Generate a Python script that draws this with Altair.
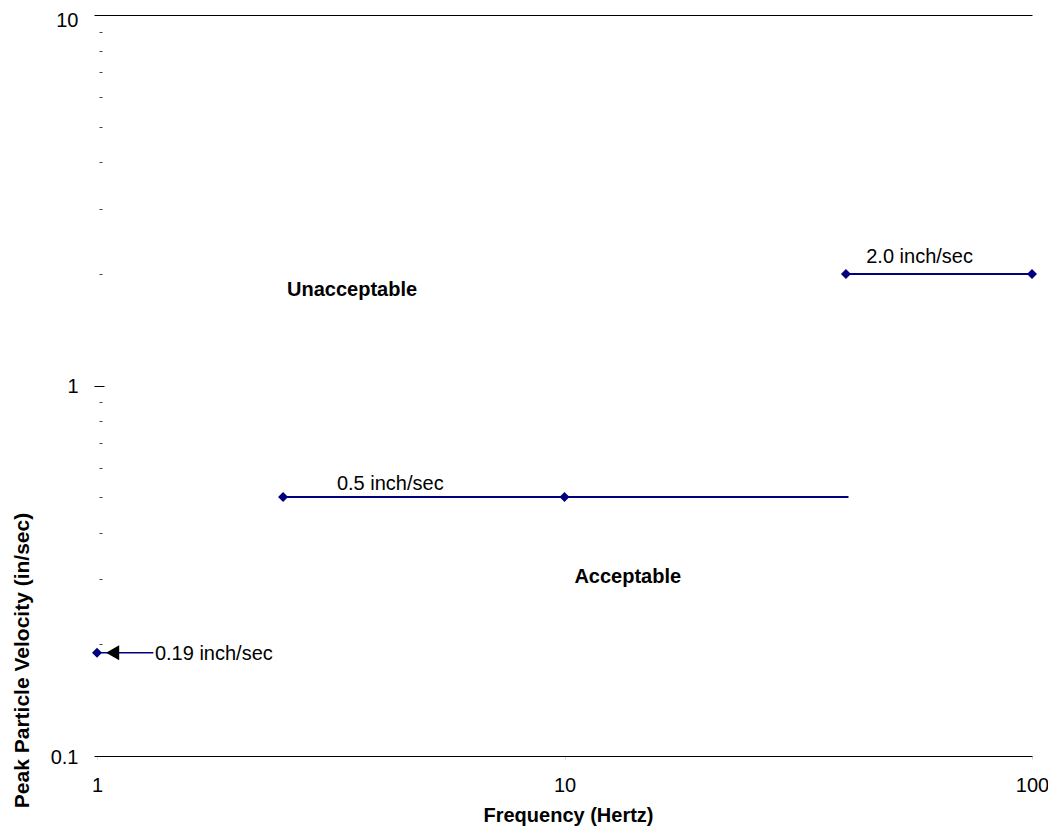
import altair as alt
import pandas as pd

# ---- data ----
series_names = ["2.0 inch/sec", "0.5 inch/sec", "0.19 inch/sec"]
series_freq = [[40, 100], [2.5, 10, 40.5], [1, 1.32]]
series_vel = [[2.0, 2.0], [0.5, 0.5, 0.5], [0.19, 0.19]]

marker_freq = [40, 100, 2.5, 10, 1]
marker_vel = [2.0, 2.0, 0.5, 0.5, 0.19]

arrow_freq = [1.08]
arrow_vel = [0.19]

label_text = ["2.0 inch/sec", "0.5 inch/sec", "0.19 inch/sec"]
label_freq = [44.2, 3.26, 1.33]
label_vel = [2.22, 0.542, 0.188]

zone_text = ["Unacceptable", "Acceptable"]
zone_freq = [2.55, 10.5]
zone_vel = [1.81, 0.304]

x_ticks = [1, 10, 100]
y_major = [0.1, 1, 10]
y_minor = [0.2, 0.3, 0.4, 0.5, 0.6, 0.7, 0.8, 0.9, 2, 3, 4, 5, 6, 7, 8, 9]

FONT = "Liberation Sans"
NAVY = "#000080"

rows = []
for name, fs, vs in zip(series_names, series_freq, series_vel):
    for i, (f, v) in enumerate(zip(fs, vs)):
        rows.append({"series": name, "freq": f, "vel": v, "order": i})
lines_df = pd.DataFrame(rows)
main_df = lines_df[lines_df.series != "0.19 inch/sec"]
low_df = lines_df[lines_df.series == "0.19 inch/sec"]

markers_df = pd.DataFrame({"freq": marker_freq, "vel": marker_vel})
arrow_df = pd.DataFrame({"freq": arrow_freq, "vel": arrow_vel})
labels_df = pd.DataFrame({"text": label_text, "freq": label_freq, "vel": label_vel})
zones_df = pd.DataFrame({"text": zone_text, "freq": zone_freq, "vel": zone_vel})

xscale = alt.Scale(type="log", domain=[1, 100], nice=False)
yscale = alt.Scale(type="log", domain=[0.1, 10], nice=False)

x_axis = alt.Axis(
    values=x_ticks, format="~g", title="Frequency (Hertz)", grid=False,
    domain=True, domainColor="#000000", domainWidth=1,
    ticks=True, tickSize=3, tickColor="#d0d0d0",
    labelFont=FONT, labelFontSize=20, labelColor="#000000", labelPadding=16,
    labelFlush=False,
    titleFont=FONT, titleFontSize=20, titleFontWeight="bold", titleColor="#000000",
    titleX=471, titleY=59, titleBaseline="middle", titleAlign="center",
)

y_major_axis = alt.Axis(
    orient="left", values=y_major, format="~g", title=None, grid=False,
    domain=False, ticks=True, tickSize=10, tickColor="#000000", offset=-7,
    labelFont=FONT, labelFontSize=20, labelColor="#000000", labelPadding=16,
    labelFlush=False,
    labelOffset=alt.condition("datum.value >= 10", alt.value(5), alt.value(1)),
)

y_minor_axis = alt.Axis(
    orient="left", values=y_minor, title=None, grid=False, labels=False,
    domain=False, ticks=True, tickSize=3, tickColor="#444444", offset=-5,
)

y_grid_axis = alt.Axis(
    orient="left", values=[10], grid=True, gridColor="#000000", gridWidth=1,
    labels=False, ticks=False, domain=False,
    title="Peak Particle Velocity (in/sec)",
    titleFont=FONT, titleFontSize=21, titleFontWeight="bold", titleColor="#000000",
    titleX=-75, titleY=645, titleAlign="center", titleBaseline="middle",
)


def X():
    return alt.X("freq:Q", scale=xscale, axis=x_axis)


main_lines = alt.Chart(main_df).mark_line(color=NAVY, strokeWidth=2).encode(
    x=X(),
    y=alt.Y("vel:Q", scale=yscale, axis=y_major_axis),
    detail="series:N",
    order="order:Q",
)

low_line = alt.Chart(low_df).mark_line(color=NAVY, strokeWidth=1.5).encode(
    x=X(),
    y=alt.Y("vel:Q", scale=yscale, axis=y_minor_axis),
    order="order:Q",
)

markers = alt.Chart(markers_df).mark_point(
    shape="diamond", filled=True, color=NAVY, size=100, opacity=1
).encode(
    x=X(),
    y=alt.Y("vel:Q", scale=yscale, axis=y_grid_axis),
)

arrow = alt.Chart(arrow_df).mark_point(
    shape="triangle-left", filled=True, color="#000000", size=230, opacity=1
).encode(
    x=X(),
    y=alt.Y("vel:Q", scale=yscale, axis=None),
)

labels = alt.Chart(labels_df).mark_text(
    align="left", baseline="middle", font=FONT, fontSize=20, color="#000000"
).encode(
    x=X(),
    y=alt.Y("vel:Q", scale=yscale, axis=None),
    text="text:N",
)

zones = alt.Chart(zones_df).mark_text(
    align="left", baseline="middle", font=FONT, fontSize=20, fontWeight="bold",
    color="#000000"
).encode(
    x=X(),
    y=alt.Y("vel:Q", scale=yscale, axis=None),
    text="text:N",
)

chart = alt.layer(
    main_lines, low_line, markers, arrow, labels, zones
).resolve_scale(x="shared", y="shared").resolve_axis(y="independent").properties(
    width=935, height=741,
    autosize=alt.AutoSizeParams(type="none"),
    padding={"left": 89, "top": 7, "right": 16, "bottom": 70},
    background="#ffffff",
).configure_view(stroke=None)

chart.save("out.html", embed_options={"renderer": "svg", "actions": False})
